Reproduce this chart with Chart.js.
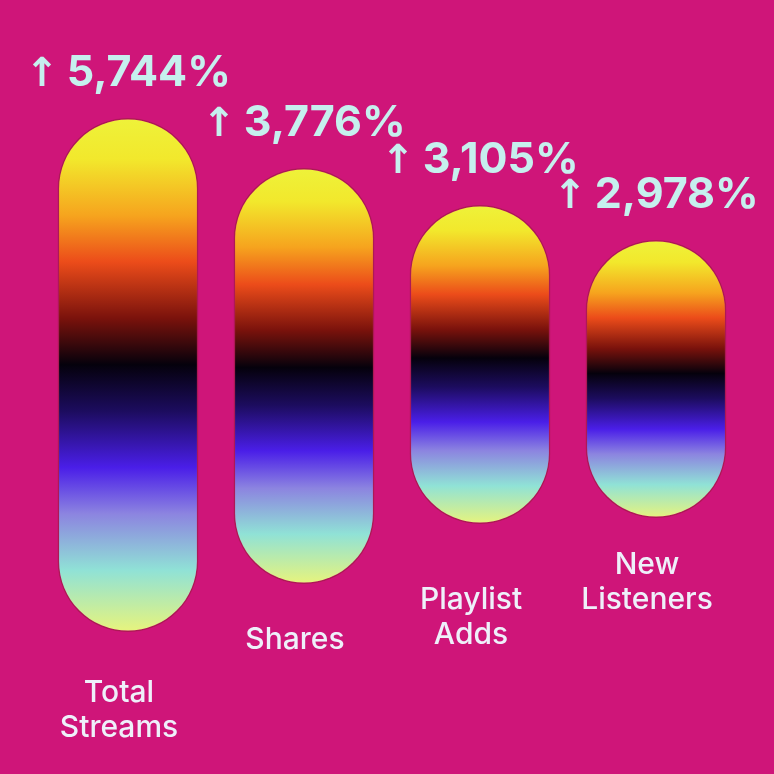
<!DOCTYPE html>
<html>
<head>
<meta charset="utf-8">
<script src="https://cdn.jsdelivr.net/npm/chart.js"></script>
<style>
  html, body { margin: 0; padding: 0; background: #cf1579; }
  #wrap { width: 774px; height: 774px; }
</style>
</head>
<body>
<div id="wrap"><canvas id="growthChart" width="774" height="774"></canvas></div>
<script>
// 데이터 (bar bottom/top in arbitrary height units)
const categories = [['Total', 'Streams'], ['Shares'], ['Playlist', 'Adds'], ['New', 'Listeners']];
const growthLabels = ['5,744%', '3,776%', '3,105%', '2,978%'];
const barBottom = [142, 190, 250, 256];
const barTop = [656, 606, 569, 534];

// gradient stops, top -> bottom
const gradStops = [
    [0.00, '#eef23a'],
    [0.08, '#f2e82c'],
    [0.19, '#f6a41e'],
    [0.28, '#ec4c1a'],
    [0.39, '#7a120c'],
    [0.48, '#05010c'],
    [0.57, '#1c0c5e'],
    [0.68, '#4a1ee8'],
    [0.77, '#8c84e0'],
    [0.88, '#90e2d6'],
    [1.00, '#e8f47c']
];

function pillGradient(context) {
    const chart = context.chart;
    if (!chart.chartArea || context.type !== 'data') return '#f0a020';
    const y = chart.scales.y;
    const v = context.raw;
    const top = y.getPixelForValue(v[1]);
    const bottom = y.getPixelForValue(v[0]);
    const g = chart.ctx.createLinearGradient(0, top, 0, bottom);
    gradStops.forEach(s => g.addColorStop(s[0], s[1]));
    return g;
}

const textPlugin = {
    id: 'textPlugin',
    afterDatasetsDraw(chart, args, opts) {
        const ctx = chart.ctx;
        const meta = chart.getDatasetMeta(0);
        ctx.save();
        meta.data.forEach((bar, i) => {
            // growth label above the bar
            const numFont = '700 43px Inter';
            const arrFont = '700 40px "DejaVu Sans"';
            ctx.font = numFont;
            const numW = ctx.measureText(growthLabels[i]).width;
            ctx.font = arrFont;
            const arrW = ctx.measureText('↑').width;
            const gap = 8;
            const total = arrW + gap + numW;
            const x0 = bar.x - total / 2;
            const base = bar.y - 32;
            ctx.fillStyle = '#c6f0ee';
            ctx.textAlign = 'left';
            ctx.textBaseline = 'alphabetic';
            ctx.fillText('↑', x0, base);
            ctx.font = numFont;
            ctx.fillText(growthLabels[i], x0 + arrW + gap, base);

            // category name below the bar
            ctx.font = '500 30px Inter';
            ctx.fillStyle = '#eef0fa';
            ctx.textAlign = 'center';
            ctx.textBaseline = 'middle';
            const lines = categories[i];
            const y0 = bar.base + opts.nameGap[i];
            lines.forEach((ln, k) => {
                ctx.fillText(ln, bar.x + opts.nameDx, y0 + k * 35);
            });
        });
        ctx.restore();
    }
};

const ctx = document.getElementById('growthChart').getContext('2d');
const chart = new Chart(ctx, {
    type: 'bar',
    data: {
        labels: categories.map(c => c.join(' ')),
        datasets: [{
            data: barBottom.map((b, i) => [b, barTop[i]]),
            backgroundColor: pillGradient,
            borderColor: 'rgba(140, 30, 50, 0.5)',
            borderWidth: 1.5,
            borderRadius: 80,
            borderSkipped: false,
            barPercentage: 0.8,
            categoryPercentage: 1.0
        }]
    },
    options: {
        responsive: false,
        animation: false,
        layout: { padding: { left: 40, right: 30, top: 0, bottom: 0 } },
        plugins: {
            legend: { display: false },
            tooltip: { enabled: false },
            textPlugin: { nameGap: [61, 56, 76, 47], nameDx: -9 }
        },
        scales: {
            x: { display: false },
            y: { display: false, min: 0, max: 774 }
        }
    },
    plugins: [textPlugin]
});
</script>
</body>
</html>
